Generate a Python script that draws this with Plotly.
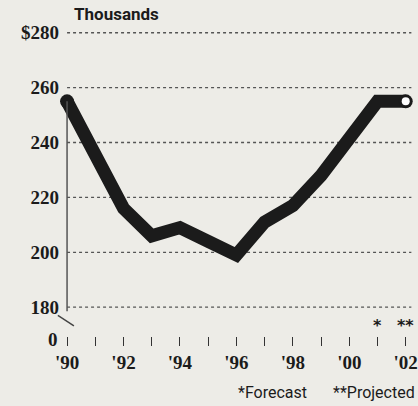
import plotly.graph_objects as go

years = [1990, 1991, 1992, 1993, 1994, 1995, 1996, 1997, 1998, 1999, 2000, 2001, 2002]
values = [255, 235, 216, 206, 209, 204, 199, 211, 217, 228, 242, 255, 255]
ytick_vals = [180, 200, 220, 240, 260, 280]
ytick_text = ["180", "200", "220", "240", "260", "$280"]
xtick_vals = list(range(1990, 2003))
xtick_text = ["'90", "", "'92", "", "'94", "", "'96", "", "'98", "", "'00", "", "'02"]
notes = {2001: "*", 2002: "**"}

BG = "#edece7"
INK = "#1b1b1b"
SERIF = "Liberation Serif"
SANS = "Roboto, Liberation Sans"

fig = go.Figure()

# dotted gridlines
for v in ytick_vals:
    fig.add_shape(type="line", xref="x", yref="y", x0=1990, x1=2002.2, y0=v, y1=v,
                  line=dict(color="#555", width=1.3, dash="dot"), layer="below")

# broken y axis line and break mark
fig.add_shape(type="line", xref="x", yref="y", x0=1990, x1=1990, y0=178.5, y1=values[0],
              line=dict(color="#555", width=1.5))
fig.add_shape(type="line", xref="paper", yref="y", x0=-0.006, x1=0.039, y0=177.0, y1=173.2,
              line=dict(color="#444", width=1.5))

# main line
fig.add_trace(go.Scatter(x=years, y=values, mode="lines",
                         line=dict(color=INK, width=13, shape="linear"),
                         hoverinfo="skip", showlegend=False))
# round caps
fig.add_trace(go.Scatter(x=[years[0], years[-1]], y=[values[0], values[-1]], mode="markers",
                         marker=dict(color=INK, size=14), showlegend=False, hoverinfo="skip"))
# open circle at end
fig.add_trace(go.Scatter(x=[years[-1]], y=[values[-1]], mode="markers",
                         marker=dict(color="white", size=8), showlegend=False, hoverinfo="skip"))

# notes above ticks
for yr, t in notes.items():
    fig.add_annotation(x=yr, y=173.5, xref="x", yref="y", text=t, showarrow=False,
                       font=dict(family="DejaVu Sans", size=16, color=INK, weight="bold"))

# "0" label on broken axis
fig.add_annotation(x=0.0, y=-0.01, xref="paper", yref="paper", xanchor="right", yanchor="middle",
                   text="0", showarrow=False,
                   font=dict(family=SERIF, size=19, color=INK, weight="bold"))

# title
fig.add_annotation(x=0.034, y=1.052, xref="paper", yref="paper", xanchor="left", yanchor="middle",
                   text="Thousands", showarrow=False,
                   font=dict(family=SANS, size=17, color=INK, weight="bold"))

# footnotes
fig.add_annotation(x=(236 - 60) / 357, y=-0.186, xref="paper", yref="paper", xanchor="left",
                   yanchor="middle", text="*Forecast", showarrow=False,
                   font=dict(family=SANS, size=16, color=INK))
fig.add_annotation(x=1.0, y=-0.186, xref="paper", yref="paper", xanchor="right",
                   yanchor="middle", text="**Projected", showarrow=False,
                   font=dict(family=SANS, size=16, color=INK))

fig.update_layout(
    width=418, height=406,
    margin=dict(l=60, r=1, t=30, b=70),
    paper_bgcolor=BG, plot_bgcolor=BG,
    xaxis=dict(range=[1989.75, 2002.4], tickvals=xtick_vals, ticktext=xtick_text,
               ticks="outside", ticklen=9, tickwidth=1.2, tickcolor="#333",
               showgrid=False, zeroline=False, showline=False,
               tickfont=dict(family=SERIF, size=19, color=INK, weight="bold")),
    yaxis=dict(range=[169.5, 281], tickvals=ytick_vals, ticktext=ytick_text,
               ticks="", showgrid=False, zeroline=False, showline=False,
               tickfont=dict(family=SERIF, size=19, color=INK, weight="bold")),
)

fig.write_html("out.html", config={"displayModeBar": False},
               post_script="document.body.style.margin='0';document.body.style.background='%s';" % BG)
